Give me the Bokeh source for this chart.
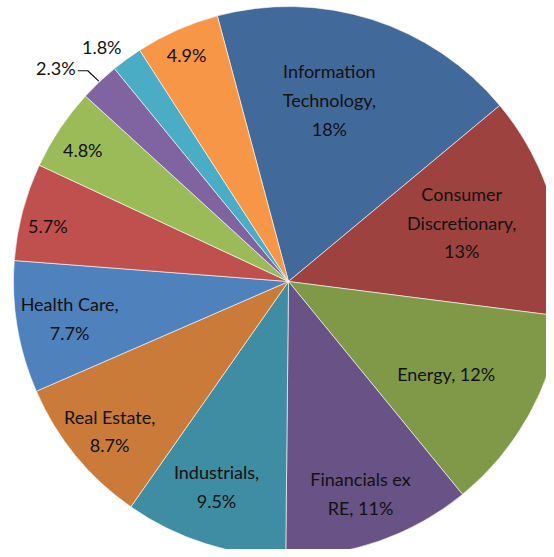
import math
from bokeh.plotting import figure
from bokeh.models import Range1d, ColumnDataSource
from bokeh.core.properties import value
from bokeh.embed import file_html
from bokeh.resources import INLINE

# ---- data ----
sectors = ["Information Technology", "Consumer Discretionary", "Energy",
           "Financials ex RE", "Industrials", "Real Estate", "Health Care",
           "Other A", "Other B", "Other C", "Other D", "Other E"]
shares = [18, 13, 12, 11, 9.5, 8.7, 7.7, 5.7, 4.8, 2.3, 1.8, 4.9]
label_texts = ["Information\nTechnology,\n18%", "Consumer\nDiscretionary,\n13%",
               "Energy, 12%", "Financials ex\nRE, 11%", "Industrials,\n9.5%",
               "Real Estate,\n8.7%", "Health Care,\n7.7%", "5.7%", "4.8%",
               "2.3%", "1.8%", "4.9%"]

# ---- style / layout ----
colors = ["#416A9B", "#9E423F", "#7F9949", "#695285", "#3E8DA3", "#CB7B39",
          "#4F81BD", "#C0504D", "#9BBB59", "#8064A2", "#4BACC6", "#F79646"]
label_angle_shift = [-4.9, -2.5, 1.5, 0.6, 1.6, -0.6, -0.1, -1.7, -1.2, -4.0, -2.5, -0.4]
label_radius = [186, 183, 183, 224, 217, 233, 222, 247, 244, 316, 300, 248]
START_DEG = -15.0          # clockwise from 12 o'clock
W, H = 546, 549
CX, CY, R = 288, H - 281, 275

p = figure(width=W, height=H, output_backend="svg", toolbar_location=None,
           x_range=Range1d(0, W), y_range=Range1d(0, H),
           x_axis_location=None, y_axis_location=None, min_border=0)
p.grid.visible = False
p.outline_line_color = None
p.background_fill_color = "white"
p.border_fill_color = "white"

total = sum(shares)
starts, ends, mids = [], [], []
acc = START_DEG
for s in shares:
    span = s / total * 360.0
    starts.append(acc)
    mids.append(acc + span / 2)
    acc += span
    ends.append(acc)

src = ColumnDataSource(dict(
    start=[math.radians(90 - a) for a in starts],
    end=[math.radians(90 - a) for a in ends],
    color=colors))
p.wedge(x=CX, y=CY, radius=R, start_angle="start", end_angle="end",
        direction="clock", fill_color="color", line_color="white",
        line_width=0.6, source=src)

lx, ly = [], []
for m, sh, rr in zip(mids, label_angle_shift, label_radius):
    a = math.radians(m + sh)
    lx.append(CX + rr * math.sin(a))
    ly.append(CY + rr * math.cos(a))

p.text(x=lx, y=ly, text=label_texts, text_align="center",
       text_baseline="middle", text_font=value("Lato"),
       text_font_size="18px", text_color="#111111", text_line_height=1.3)

# leader line for the 2.3% slice
i = 9
a = math.radians(mids[i])
px0, py0 = CX + (R + 1) * math.sin(a), CY + (R + 1) * math.cos(a)
p.line(x=[px0, lx[i] + 32, lx[i] + 22], y=[py0, ly[i] - 3, ly[i] - 3],
       line_color="#111111", line_width=1.2)

open("out.html", "w").write(file_html(p, INLINE))
